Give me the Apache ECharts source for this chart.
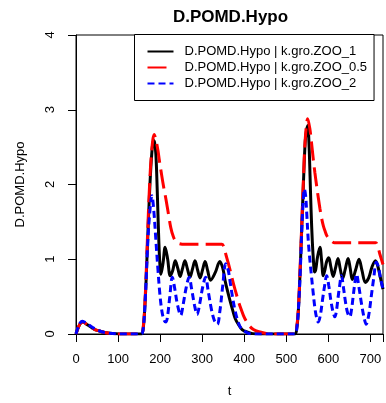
<!DOCTYPE html>
<html>
<head>
<meta charset="utf-8">
<script src="https://cdn.jsdelivr.net/npm/echarts@6/dist/echarts.min.js"></script>
<style>html,body{margin:0;padding:0;background:#fff;}#c{width:386px;height:403px;}</style>
</head>
<body>
<div id="c"></div>
<script>
const titleText = 'D.POMD.Hypo';
const xName = 't';
const yName = 'D.POMD.Hypo';
const seriesNames = ['D.POMD.Hypo | k.gro.ZOO_1', 'D.POMD.Hypo | k.gro.ZOO_0.5', 'D.POMD.Hypo | k.gro.ZOO_2'];
const xTicks = [0, 100, 200, 300, 400, 500, 600, 700];
const yTicks = [0, 1, 2, 3, 4];

// ZOO_1 (black)
const t1 = [0,5,10,15,20,28,36,45,56,68,80,95,110,140,155,160,165,170,175,180,184.5,187,190,193,196,199,202,207,212,218,224,230,236,242,247.5,253,259,265,271,277,283,289,295,301,307,313,320,331,342,349,355,361,367,373,379,387,395,405,420,440,
  520,525,529,533,537,541,545,548,551,554,556.5,559,562,565,567,570,574,580,584,588,592,596,601,606,611.6,617,623,628,634,640,647,652,657,665,673,680,688,696,704,712,718,724,730];
const v1 = [0,0.08,0.14,0.16,0.15,0.12,0.09,0.06,0.04,0.02,0.01,0.003,0,0,0,0.08,0.5,1.2,1.9,2.4,2.59,2.56,2.4,1.95,1.4,0.98,0.80,0.95,1.16,1.0,0.78,0.85,0.98,0.88,0.77,0.87,0.98,0.87,0.76,0.87,0.98,0.86,0.75,0.86,0.97,0.85,0.72,0.82,0.97,0.88,0.70,0.56,0.43,0.31,0.2,0.12,0.06,0.03,0.005,0,
  0,0.08,0.34,0.85,1.45,2.05,2.57,2.72,2.79,2.55,2.12,1.65,1.23,0.95,0.83,0.86,1.02,1.16,0.98,0.78,0.86,0.97,1.02,0.9,0.77,0.88,1.01,0.88,0.74,0.86,1.01,0.88,0.73,0.86,1.0,0.85,0.69,0.75,0.9,0.98,0.9,0.75,0.6];

// ZOO_0.5 (red)
const t2 = [0,5,10,15,20,28,36,45,56,68,80,95,110,140,155,160,165,170,175,180,186,190,195,198,203,208,214,220,225.5,231,237,245,260,300,347,352,357,362,368,374,380,386,392,398,404,412,422,435,450,470,
  520,525,529,533,537,541,545,551,556,560,564,568,572,576,580,584,588,592,596,602,608,615,625,660,700,713,718,723,730];
const v2 = [0,0.08,0.14,0.16,0.15,0.12,0.09,0.06,0.04,0.02,0.01,0.003,0,0,0,0.1,0.55,1.3,2.0,2.45,2.67,2.6,2.45,2.33,2.15,1.98,1.8,1.6,1.42,1.31,1.24,1.21,1.2,1.2,1.2,1.15,1.05,0.95,0.82,0.68,0.56,0.44,0.34,0.25,0.18,0.11,0.06,0.03,0.01,0,
  0,0.1,0.36,0.9,1.5,2.1,2.6,2.88,2.75,2.56,2.35,2.16,1.99,1.83,1.68,1.55,1.45,1.38,1.32,1.27,1.24,1.22,1.22,1.22,1.22,1.22,1.16,1.06,0.93];

// ZOO_2 (blue)
const t3 = [0,5,10,15,20,28,36,45,56,68,80,95,110,140,155,160,165,170,175,180.5,185,190,195,200,205,210,214,218,223,229,235,241,249,255,262,269,275,282,288,294,301,308,315,322,329,336,342,349,356,362,367,372,378,385,392,400,410,425,440,
  520,525,529,533,537,540,543,546,549,552.5,556,560,564,568,572,576,581,586,591,596,601,606,611,615.6,619,623,627,631,636,641,646,651,655,659,663,667,673,679,685,690,696,702,708,714,719,724,730];
const v3 = [0,0.09,0.15,0.17,0.16,0.13,0.1,0.07,0.04,0.02,0.01,0.003,0,0,0,0.08,0.5,1.15,1.6,1.85,1.65,1.25,0.85,0.5,0.28,0.18,0.16,0.25,0.5,0.76,0.6,0.4,0.25,0.4,0.62,0.76,0.6,0.38,0.26,0.4,0.62,0.76,0.55,0.33,0.18,0.13,0.3,0.65,0.94,0.85,0.68,0.5,0.32,0.17,0.08,0.04,0.01,0,0,
  0,0.08,0.34,0.8,1.4,1.75,1.94,1.85,1.58,1.23,1.0,0.77,0.55,0.35,0.22,0.16,0.25,0.45,0.64,0.78,0.65,0.45,0.3,0.23,0.3,0.48,0.65,0.78,0.62,0.42,0.28,0.23,0.32,0.5,0.68,0.80,0.62,0.4,0.22,0.13,0.25,0.5,0.75,0.96,0.9,0.75,0.6];

const pair = (t, v) => t.map((x, i) => [x, v[i]]);
const FONT = '"Liberation Sans", Arial, sans-serif';

const chart = echarts.init(document.getElementById('c'), null, {renderer: 'canvas'});
chart.setOption({
  animation: false,
  backgroundColor: '#fff',
  textStyle: {fontFamily: FONT, color: '#000'},
  title: {
    text: titleText, left: 230.5, top: 9, textAlign: 'center', padding: 0,
    textStyle: {fontFamily: FONT, fontSize: 17, fontWeight: 'bold', color: '#000'}
  },
  grid: {left: 76, right: 1.5, top: 35, bottom: 68, show: true, borderColor: '#000', borderWidth: 1, backgroundColor: 'transparent'},
  legend: {
    orient: 'vertical', left: 134.5, top: 34.5,
    padding: [9, 7, 9, 12], itemGap: 0, itemWidth: 26, itemHeight: 16,
    borderColor: '#000', borderWidth: 1, backgroundColor: '#fff',
    itemStyle: {opacity: 0},
    textStyle: {fontFamily: FONT, fontSize: 13, color: '#000', lineHeight: 16, padding: [0, 0, 0, 6]},
    data: seriesNames
  },
  xAxis: {
    type: 'value', min: 0, max: 730, interval: 100,
    name: xName, nameLocation: 'middle', nameGap: 51,
    nameTextStyle: {fontFamily: FONT, fontSize: 13, color: '#000'},
    axisLine: {show: true, lineStyle: {color: '#000', width: 1}},
    axisTick: {show: true, length: 8, lineStyle: {color: '#000'}},
    axisLabel: {fontFamily: FONT, fontSize: 13, color: '#000', margin: 19,
      formatter: v => xTicks.includes(v) ? String(v) : ''},
    splitLine: {show: false}
  },
  yAxis: {
    type: 'value', min: 0, max: 4, interval: 1,
    name: yName, nameLocation: 'middle', nameGap: 49,
    nameTextStyle: {fontFamily: FONT, fontSize: 13, color: '#000'},
    axisLine: {show: true, lineStyle: {color: '#000', width: 1}},
    axisTick: {show: true, length: 8, lineStyle: {color: '#000'}},
    axisLabel: {fontFamily: FONT, fontSize: 13, color: '#000', rotate: 90, margin: 19,
      formatter: v => yTicks.includes(v) ? String(v) : ''},
    splitLine: {show: false}
  },
  series: [
    {name: seriesNames[0], type: 'line', data: pair(t1, v1), symbol: 'none', smooth: 0.35,
      lineStyle: {color: '#000', width: 3, type: 'solid'}, itemStyle: {color: '#000'}, z: 2},
    {name: seriesNames[1], type: 'line', data: pair(t2, v2), symbol: 'none', smooth: 0.35,
      lineStyle: {color: '#ff0000', width: 3, type: [19, 7], cap: 'butt'}, itemStyle: {color: '#ff0000'}, z: 3},
    {name: seriesNames[2], type: 'line', data: pair(t3, v3), symbol: 'none', smooth: 0.35,
      lineStyle: {color: '#0000ff', width: 3, type: [7, 4], cap: 'butt'}, itemStyle: {color: '#0000ff'}, z: 4}
  ]
});
</script>
</body>
</html>
